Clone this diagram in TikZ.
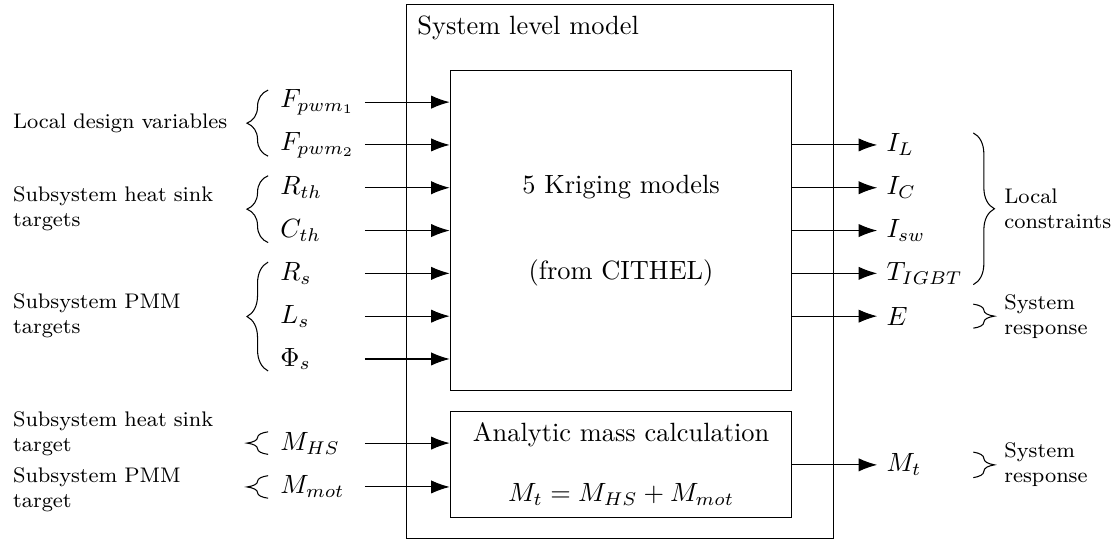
\documentclass[tikz,border=0pt]{standalone}
\usepackage{tikz}
\usetikzlibrary{
  positioning, arrows.meta, calc, decorations.pathreplacing
}

\begin{document}
\begin{tikzpicture}[
  box/.style={
    rectangle, draw, minimum width=4.55cm,
    font=\normalsize, align=center
  },
  var/.style={anchor=west},
  grp/.style={
    anchor=west, font=\footnotesize,
    text width=2.95cm, align=left
  },
  res/.style={
    anchor=west, font=\footnotesize,
    text width=1.6cm, align=left
  },
  arr/.style={-{Latex[length=7pt,width=5pt]}},
  brc/.style={decorate, decoration={brace, amplitude=8pt}},
]
\useasboundingbox (0,0) rectangle (14.86,7.19);

% System box and models
\node[draw, minimum width=5.685cm, minimum height=7.1cm] (sys) at (8.26,3.575) {};
\node[anchor=north west, inner sep=4pt] (systitle) at (sys.north west) {System level model};
\node[box, minimum height=4.25cm] (krig) at (8.27,4.12) {5 Kriging models\\[0.72cm](from CITHEL)};
\node[box, minimum height=1.41cm] (mass) at (8.27,1.01) {Analytic mass calculation\\[0.38cm]$M_t = M_{HS} + M_{mot}$};

\coordinate (inx) at (4.86,0);
\coordinate (rbx) at (12.96,0);

% Inputs
\node[var] (fpa) at (3.61,5.83) {$F_{pwm_1}$};
\node[var] (fpb) at (3.61,5.26) {$F_{pwm_2}$};
\node[var] (rth) at (3.61,4.69) {$R_{th}$};
\node[var] (cth) at (3.61,4.12) {$C_{th}$};
\node[var] (rs) at (3.61,3.55) {$R_s$};
\node[var] (ls) at (3.61,2.98) {$L_s$};
\node[var] (phis) at (3.61,2.41) {$\Phi_s$};
\node[var] (mhs) at (3.61,1.29) {$M_{HS}$};
\node[var] (mmot) at (3.61,0.706) {$M_{mot}$};

% Outputs
\node[var] (il) at (11.68,5.26) {$I_L$};
\node[var] (ic) at (11.68,4.69) {$I_C$};
\node[var] (isw) at (11.68,4.12) {$I_{sw}$};
\node[var] (tigbt) at (11.68,3.55) {$T_{IGBT}$};
\node[var] (e) at (11.68,2.98) {$E$};
\node[var] (mt) at (11.68,1.0) {$M_t$};

% Group labels
\node[grp] (ldv) at (0.05,5.545) {Local design variables};
\node[grp] (hst) at (0.05,4.405) {Subsystem heat sink\\targets};
\node[grp] (pmt) at (0.05,2.98) {Subsystem PMM\\targets};
\node[grp] (hsm) at (0.05,1.42) {Subsystem heat sink\\target};
\node[grp] (pmm) at (0.05,0.666) {Subsystem PMM\\target};
\node[res] (lc) at (13.25,4.405) {Local\\constraints};
\node[res] (sre) at (13.25,2.98) {System\\response};
\node[res] (srm) at (13.25,1.0) {System\\response};

% Input arrows
\draw[arr] (inx |- fpa) -- (krig.west |- fpa);
\draw[arr] (inx |- fpb) -- (krig.west |- fpb);
\draw[arr] (inx |- rth) -- (krig.west |- rth);
\draw[arr] (inx |- cth) -- (krig.west |- cth);
\draw[arr] (inx |- rs) -- (krig.west |- rs);
\draw[arr] (inx |- ls) -- (krig.west |- ls);
\draw[arr] (inx |- phis) -- (krig.west |- phis);
\draw[arr] (inx |- mhs) -- (mass.west |- mhs);
\draw[arr] (inx |- mmot) -- (mass.west |- mmot);

% Output arrows
\draw[arr] (krig.east |- il) -- (il.west);
\draw[arr] (krig.east |- ic) -- (ic.west);
\draw[arr] (krig.east |- isw) -- (isw.west);
\draw[arr] (krig.east |- tigbt) -- (tigbt.west);
\draw[arr] (krig.east |- e) -- (e.west);
\draw[arr] (mass.east |- mt) -- (mt.west);

% Braces
\draw[brc] ($(fpb.west)+(-0.04,-0.15)$) -- ($(fpa.west)+(-0.04,0.16)$);
\draw[brc] ($(cth.west)+(-0.04,-0.16)$) -- ($(rth.west)+(-0.04,0.16)$);
\draw[brc] ($(phis.west)+(-0.04,-0.16)$) -- ($(rs.west)+(-0.04,0.15)$);
\draw[brc] ($(mhs.west)+(-0.04,-0.15)$) -- ($(mhs.west)+(-0.04,0.15)$);
\draw[brc] ($(mmot.west)+(-0.04,-0.15)$) -- ($(mmot.west)+(-0.04,0.15)$);
\draw[brc] ($(rbx |- il)+(0,0.16)$) -- ($(rbx |- tigbt)+(0,-0.15)$);
\draw[brc] ($(rbx |- e)+(0,0.16)$) -- ($(rbx |- e)+(0,-0.16)$);
\draw[brc] ($(rbx |- mt)+(0,0.17)$) -- ($(rbx |- mt)+(0,-0.17)$);

\end{tikzpicture}
\end{document}
